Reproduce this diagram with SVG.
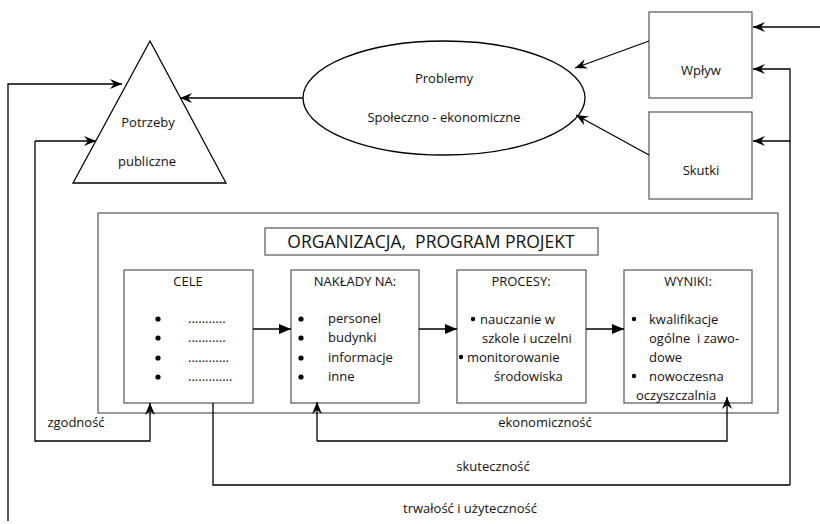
<svg xmlns="http://www.w3.org/2000/svg" width="820" height="524" viewBox="0 0 820 524">
<defs>
<marker id="st" viewBox="0 0 12 10" refX="12" refY="5" markerWidth="12" markerHeight="10" markerUnits="userSpaceOnUse" orient="auto">
<path d="M0,0 L12,5 L0,10 L4,5 z" fill="#000"/>
</marker>
<marker id="tri" viewBox="0 0 12 10" refX="12" refY="5" markerWidth="12" markerHeight="10" markerUnits="userSpaceOnUse" orient="auto">
<path d="M0,0 L12,5 L0,10 z" fill="#000"/>
</marker>
</defs>
<style>
text{font-family:"Open Sans","Noto Sans",sans-serif;font-size:13px;fill:#111;white-space:pre}
.c{text-anchor:middle}
.dot{fill:#000}
.box{fill:#fff;stroke:#555;stroke-width:1.2}
.ln{fill:none;stroke:#000;stroke-width:1.3}
.ar{marker-end:url(#st)}
.at{marker-end:url(#tri)}
</style>
<rect width="820" height="524" fill="#fff"/>
<g id="potrzeby">
<polygon points="150,41 226,183 73,183" fill="#fff" stroke="#000" stroke-width="1.3"/>
<text class="c" x="148" y="127">Potrzeby</text>
<text class="c" x="147" y="166">publiczne</text>
</g>
<g id="problemy">
<ellipse cx="444" cy="98" rx="141" ry="57" fill="#fff" stroke="#000" stroke-width="1.3"/>
<text class="c" x="444" y="83">Problemy</text>
<text class="c" x="444" y="122">Społeczno - ekonomiczne</text>
</g>
<g id="wplyw">
<rect class="box" x="649" y="12" width="103" height="86"/>
<text class="c" x="701" y="75">Wpływ</text>
</g>
<g id="skutki">
<rect class="box" x="649" y="112" width="103" height="87"/>
<text class="c" x="701" y="175">Skutki</text>
</g>
<g id="organizacja">
<rect class="box" x="98" y="213" width="680" height="200" stroke="#333"/>
<rect class="box" x="265" y="228" width="333" height="27" stroke="#333"/>
<text class="c" x="431" y="248" style="font-size:17.5px">ORGANIZACJA,  PROGRAM PROJEKT</text>
</g>
<g id="cele">
<rect class="box" x="124" y="270" width="129" height="133"/>
<text class="c" x="188" y="286">CELE</text>
<circle class="dot" cx="158" cy="319" r="2.6"/><circle class="dot" cx="158" cy="338" r="2.6"/><circle class="dot" cx="158" cy="358" r="2.6"/><circle class="dot" cx="158" cy="377" r="2.6"/>
<text x="188" y="323">...........</text>
<text x="188" y="342">...........</text>
<text x="188" y="362">............</text>
<text x="188" y="381">.............</text>
</g>
<g id="naklady">
<rect class="box" x="291" y="270" width="128" height="133"/>
<text class="c" x="355" y="286">NAKŁADY NA:</text>
<circle class="dot" cx="301" cy="319" r="2.6"/><circle class="dot" cx="301" cy="338" r="2.6"/><circle class="dot" cx="301" cy="358" r="2.6"/><circle class="dot" cx="301" cy="377" r="2.6"/>
<text x="328" y="323">personel</text>
<text x="328" y="342">budynki</text>
<text x="328" y="362">informacje</text>
<text x="328" y="381">inne</text>
</g>
<g id="procesy">
<rect class="box" x="457" y="270" width="129" height="133"/>
<text class="c" x="521" y="286">PROCESY:</text>
<circle class="dot" cx="473" cy="319" r="2.2"/>
<text x="480" y="324">nauczanie w</text>
<text x="482" y="343">szkole i uczelni</text>
<circle class="dot" cx="461" cy="357" r="2.2"/>
<text x="467" y="362">monitorowanie</text>
<text x="494" y="381">środowiska</text>
</g>
<g id="wyniki">
<rect class="box" x="624" y="270" width="128" height="133"/>
<text class="c" x="688" y="286">WYNIKI:</text>
<circle class="dot" cx="634" cy="319" r="2.2"/>
<text x="649" y="324">kwalifikacje</text>
<text x="649" y="343">ogólne  i zawo-</text>
<text x="649" y="362">dowe</text>
<circle class="dot" cx="634" cy="376" r="2.2"/>
<text x="649" y="381">nowoczesna</text>
<text x="636" y="400">oczyszczalnia</text>
</g>
<g id="connectors">
<path class="ln ar" d="M303,98 H180"/>
<path class="ln ar" d="M649,41 L575,68"/>
<path class="ln ar" d="M649,155 L576,115"/>
<path class="ln ar" d="M820,27 H753"/>
<path class="ln ar" d="M790,485 V69 H753"/>
<path class="ln ar" d="M790,141 H753"/>
<path class="ln" d="M213,403 V485 H790"/>
<path class="ln ar" d="M8,521 V84 H122"/>
<path class="ln ar" d="M35,141 V441 H150 V403"/>
<path class="ln ar" d="M35,141 H96"/>
<path class="ln ar" d="M317,441 V402"/>
<path class="ln ar" d="M317,441 H727 V397"/>
<path class="ln at" d="M253,329 H291"/>
<path class="ln at" d="M419,329 H457"/>
<path class="ln at" d="M586,329 H624"/>
<text class="c" x="76" y="427">zgodność</text>
<text class="c" x="545" y="427">ekonomiczność</text>
<text class="c" x="493" y="471">skuteczność</text>
<text class="c" x="470" y="513">trwałość i użyteczność</text>
</g>
</svg>
